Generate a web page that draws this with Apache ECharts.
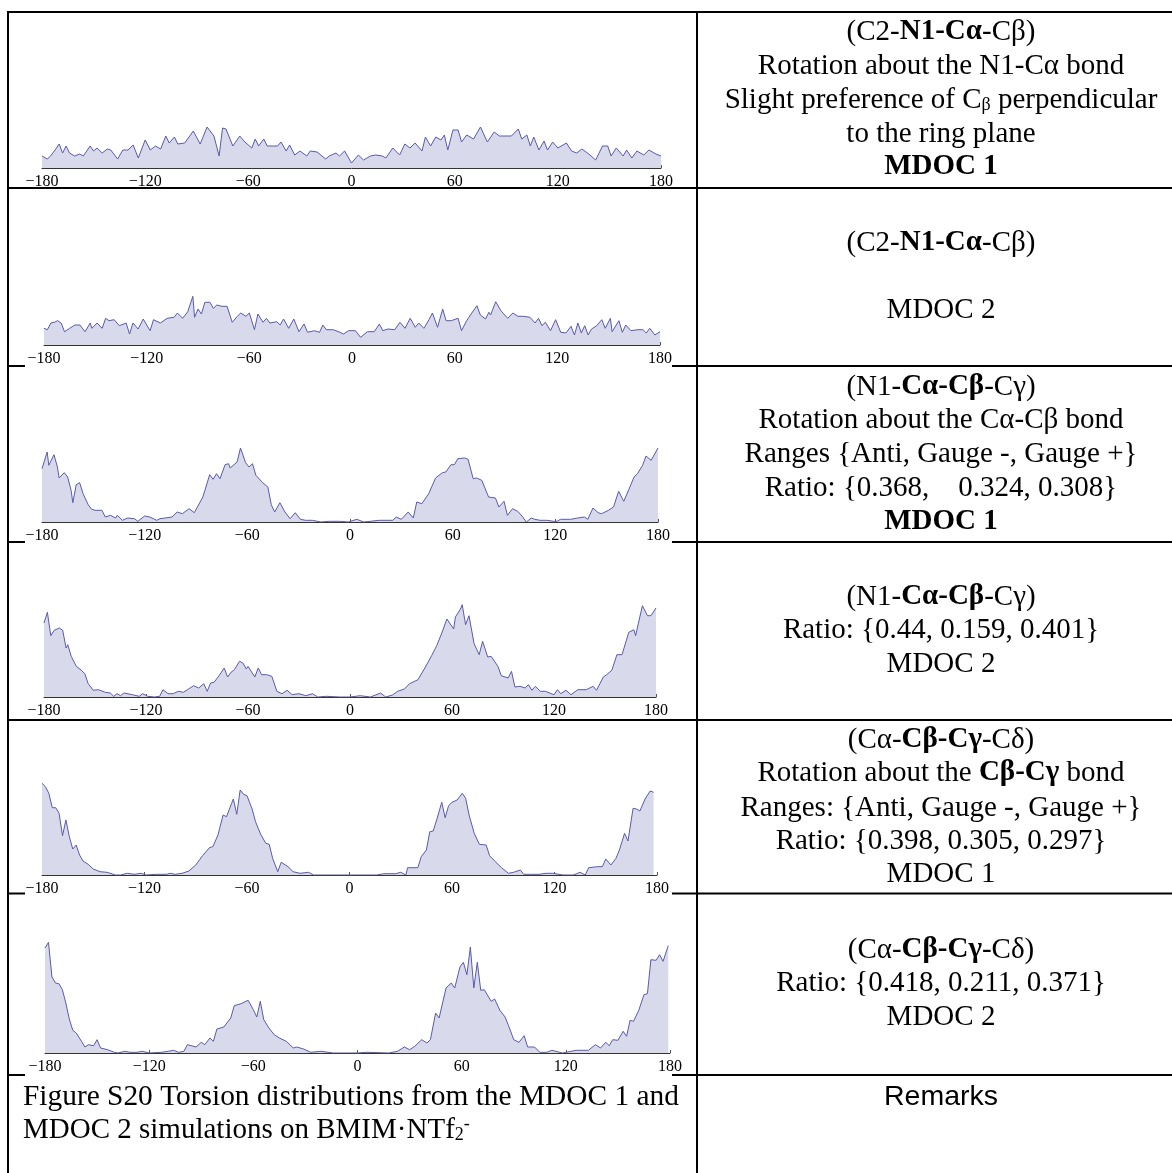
<!DOCTYPE html>
<html>
<head>
<meta charset="utf-8">
<script src="https://cdn.jsdelivr.net/npm/echarts@6/dist/echarts.min.js"></script>
<style>
html,body{margin:0;padding:0;background:#fff;}
#c{width:1172px;height:1173px;}
</style>
</head>
<body>
<div id="c"></div>
<script>
// ---- data: torsion angle (deg) and relative population (arbitrary units) ----
const xTicks = [-180, -120, -60, 0, 60, 120, 180];

const ang1 = [-180,-177,-175,-172,-170,-168,-166,-164,-161,-158,-156,-154,-152,-150,-148,-145,-142,-140,-136,-133,-130,-127,-124,-120,-117,-114,-111,-108,-106,-103,-101,-97,-92,-88,-84,-80,-77,-75,-73,-69,-65,-62,-58,-56,-54,-51,-49,-43,-41,-38,-36,-33,-30,-26,-24,-20,-15,-13,-9,-7,-4,0,4,7,11,14,18,20,24,28,31,34,37,41,43,46,49,52,54,56,59,62,64,67,71,75,79,83,86,93,97,99,102,104,106,109,112,114,117,120,125,128,131,134,138,142,146,149,151,154,158,160,163,166,170,173,177,180];
const val1 = [12,9,12,19,24,15,22,15,12,14,12,17,22,17,20,15,19,18,9,18,18,23,10,28,18,22,19,32,25,31,24,25,37,24,41,32,12,40,39,22,32,26,20,29,22,29,22,22,26,17,23,13,17,12,17,16,9,12,15,12,17,5,13,8,12,13,12,10,20,13,24,20,25,17,31,22,31,28,33,18,38,38,26,33,29,41,26,36,32,32,39,29,33,22,31,18,27,18,26,20,25,17,15,19,14,8,22,22,12,20,12,18,10,17,13,18,14,12];

const ang2 = [-180,-178,-176,-174,-172,-170,-168,-165,-162,-159,-156,-153,-152,-149,-146,-144,-142,-139,-136,-132,-130,-128,-125,-122,-118,-116,-112,-108,-104,-102,-99,-96,-93,-92,-90,-88,-86,-83,-81,-79,-76,-73,-70,-67,-65,-62,-60,-57,-55,-52,-50,-48,-44,-42,-40,-37,-34,-31,-28,-26,-22,-19,-17,-15,-11,-7,-5,-2,2,5,9,13,16,18,21,25,28,31,34,37,39,42,45,47,50,53,55,58,62,64,67,70,71,73,75,78,80,81,84,87,91,94,97,100,104,107,109,111,113,116,119,122,125,128,130,132,134,136,138,140,143,146,148,151,152,156,158,160,163,167,170,172,174,177,180];
const val2 = [16.7,15.3,22,22.7,24.3,22,13.3,16.7,20,20,13.3,22,16.7,22,16.7,26.7,24.3,25.3,19.3,22,11,22,16,26,14.3,25.3,22,26.7,27.7,32,26.7,33.3,48.7,27.7,36,31,42.7,42.7,36.7,40,38.7,38.7,22.7,28.7,32,28.7,32,15.3,31,22.7,26.7,22,23.3,20,26,16.7,26,13.3,21,12.7,14.3,12.7,20,15.3,15.3,12.7,11,14.3,14.3,7.7,13.3,13.3,21,14.3,16,15.3,22.7,16.7,26.7,17.7,22,16.7,25.3,32,17.7,36,24.3,24.3,26.7,14.3,24.3,32,32,39.3,30,26,32.7,30,43.3,34.3,26.7,32,28.7,28.7,27.7,22,26.7,19.3,22.7,14.3,25.3,12.7,12,18.7,10,22,12,19.3,10,16,19.3,25.3,16.7,26.7,13.3,24.3,12.7,20,14.3,15.3,15.3,12,16.7,10,13.3];

const ang3 = [-180,-177,-176,-173,-171,-170,-167,-165,-163,-162,-160,-158,-156,-153,-151,-149,-145,-143,-140,-137,-136,-133,-130,-126,-124,-120,-117,-113,-111,-108,-104,-101,-98,-94,-91,-86,-82,-80,-78,-76,-73,-71,-70,-66,-64,-61,-59,-57,-55,-51,-48,-46,-44,-41,-38,-35,-32,-29,-26,-22,-17,-12,-6,-1,4,8,12,17,25,27,30,34,37,39,42,46,50,54,56,59,61,63,67,69,72,74,77,81,85,87,90,92,95,98,101,103,106,108,111,115,119,121,123,129,133,137,139,142,145,147,151,154,157,160,163,166,168,171,173,176,180];
const val3 = [53.3,70,56.7,67.3,55,44,49.3,45,31.7,19.3,37.3,39.3,28.3,17.3,12.7,11.7,11.7,5,6.7,4,6.7,1.7,4,3.3,0.7,6,5,1.7,3.3,4,5,10,8.3,13.3,9.3,25,47.3,42.7,48.3,43.3,57.3,58.3,54,60,74,59.3,55,58.3,46.7,39.3,35,17.3,10,19.3,10,3.3,9.3,2.7,1.7,1.7,0,0.7,0.7,0,2.7,0,0.7,1.7,1.7,5,2.7,10,4,20,18.3,28.3,44,49.3,50,57.3,57.3,63.3,64,62.7,43.3,44,41.7,25,24,15,20.7,6.7,13.3,10.7,5,0,4,2.7,1.7,1.7,0.7,0.7,2.7,2.7,4,5,2.7,14,9.3,8.3,11.7,15,30.7,20.7,32.7,45,48.3,56.7,66,61.7,74];

const ang4 = [-180,-178,-176,-174,-171,-169,-167,-166,-164,-161,-158,-156,-154,-151,-148,-144,-141,-139,-137,-135,-133,-128,-124,-122,-119,-115,-112,-110,-107,-104,-101,-98,-95,-92,-89,-86,-84,-82,-80,-77,-74,-72,-70,-68,-65,-63,-61,-60,-56,-54,-52,-49,-46,-43,-40,-37,-34,-30,-26,-22,-19,-14,-6,0,6,12,18,21,25,28,32,35,40,44,48,51,54,57,61,62,65,66,68,70,73,76,78,81,83,87,89,93,95,97,100,103,105,107,109,112,115,120,122,124,127,130,134,139,143,145,149,151,154,157,160,164,167,168,172,175,177,180];
const val4 = [74,84.7,61.3,66.7,69,66.7,49,52.3,40.7,30.7,26.7,23.3,13.3,6.7,7.3,4.7,4,0.7,3.3,1.3,4,2.3,0.7,3.3,0.7,0,0.7,7.3,3.3,3.3,5.7,4.7,8,11.3,9,13.3,5.7,14,14.7,21.3,29,20,24.7,27.3,35.7,34,28,30.7,20,29,22.3,22.3,20.7,5.7,3.3,6.7,2.3,3.3,1.3,3.3,0,0.7,0,0,1.3,0,4,0,2,5.7,8,13.3,17.3,29,41.3,51.3,64,78,68,80,88,92.3,72.3,81.3,53.3,42.3,55.7,40,40.7,30.7,21.3,19,25.7,10,10.7,9,12.3,6.7,10.7,5.7,5.7,2.3,7.3,3.3,6.7,2.3,7.3,7.3,10.7,6.7,20,22.3,26.7,42.3,42.3,64.7,67.3,61.3,91.3,81.3,81.3,89];

const ang5 = [-180,-178,-176,-174,-172,-170,-168,-166,-164,-162,-160,-158,-156,-153,-150,-146,-142,-137,-134,-130,-126,-122,-119,-113,-107,-105,-102,-98,-94,-90,-86,-82,-80,-77,-74,-72,-69,-68,-66,-64,-62,-60,-57,-55,-52,-49,-47,-45,-42,-40,-36,-33,-29,-24,-21,-11,0,4,16,20,27,30,33,34,40,42,45,47,49,51,54,56,58,60,63,66,68,70,73,76,80,82,85,89,93,96,100,102,106,111,115,119,125,131,135,138,140,145,148,150,153,156,158,161,163,166,168,170,173,176,178];
const val5 = [91.7,88.3,81.7,67.3,67.3,61.7,39.3,55,38.3,26,30,20,14,10.7,6,3.3,2.7,0,0,1.7,0.7,1.7,0,0.7,0.7,1.7,0.7,1.7,4,10,19.3,27.3,28.3,40,60,58.3,71.7,76,60.7,85,80.7,79.3,66,53.3,40.7,31.7,30.7,16.7,3.3,12.7,8.3,3.3,1.7,2.7,0,0,0,0,0,1.3,1.3,2.7,0,7.3,7.3,18.3,25,43.3,44,55,72.7,57.3,69.3,72.7,75,81.7,76.7,60,41.7,30.7,30,19.3,14,7.3,1.7,2.7,5,0.7,0.7,0.7,1.7,1.7,0,0,2.7,0,7.3,8.3,8.3,16,10,16.7,25,41.7,34,66.7,66,64,76,84,82.7];

const ang6 = [-180,-178,-176,-174,-172,-170,-168,-166,-164,-162,-159,-157,-155,-152,-150,-148,-144,-140,-138,-134,-131,-127,-124,-120,-113,-109,-106,-103,-100,-98,-93,-90,-88,-85,-83,-81,-77,-73,-71,-67,-63,-60,-58,-56,-54,-51,-48,-45,-41,-37,-35,-31,-27,-21,-14,0,5,18,23,27,30,33,37,40,42,45,47,49,51,54,56,59,61,63,65,67,69,71,73,77,79,82,85,87,90,93,96,98,102,105,109,112,118,126,133,137,140,143,145,147,150,153,155,157,159,162,165,167,169,172,174,176,179];
const val6 = [105,110.7,76,70,69.3,63.3,50,34,22.7,20,11.7,6,8.3,7.3,13.3,5,3.3,0.7,0,1.7,0.7,0.7,1.7,0,0.7,1.7,2.7,0.7,1.7,8.3,6,10.7,8.3,15,11.7,24,26,35,47.3,49.3,52.7,43.3,36,51.7,33.3,25,18.3,15,11.7,5,6,4,0.7,1.7,0,0,0.7,0,1.7,6,3.3,6.7,13.3,10,13.3,40,35,50,65,70,65,86,90.7,78.3,106,65,90.7,62.7,63.3,51.7,54,42.7,36,27.3,13.3,10.7,17.3,6,6,0.7,0.7,2.7,0,2.7,2.7,8.3,5,10.7,7.3,13.3,12.7,21.7,16.7,32.7,31.7,42.7,58.3,59.3,93.3,92.7,98.3,91.7,107.3];

// ---- layout ----
const H = 130;
const panels = [
  {ang: ang1, val: val1, left: 42, right: 661, base: 168},
  {ang: ang2, val: val2, left: 44, right: 660, base: 345},
  {ang: ang3, val: val3, left: 42, right: 658, base: 522},
  {ang: ang4, val: val4, left: 44, right: 656, base: 697},
  {ang: ang5, val: val5, left: 42, right: 657, base: 875},
  {ang: ang6, val: val6, left: 45, right: 670, base: 1053}
];

const LINE = '#5a5aaa', FILL = '#d9d9ec';
const grid = [], xAxis = [], yAxis = [], series = [];
panels.forEach((p, i) => {
  grid.push({left: p.left, top: p.base - H, width: p.right - p.left, height: H, containLabel: false});
  xAxis.push({
    type: 'value', gridIndex: i, min: xTicks[0], max: xTicks[xTicks.length - 1], interval: 60,
    axisLine: {show: true, lineStyle: {color: '#333', width: 1}},
    axisTick: {show: true, inside: true, length: 3, lineStyle: {color: '#555', width: 1}},
    splitLine: {show: false},
    axisLabel: {
      show: true, margin: 6, color: '#000', fontFamily: 'Liberation Serif', fontSize: 16,
      formatter: v => (v < 0 ? '\u2212' + (-v) : String(v))
    }
  });
  yAxis.push({type: 'value', gridIndex: i, min: 0, max: H, show: false, splitLine: {show: false}});
  series.push({
    type: 'line', xAxisIndex: i, yAxisIndex: i,
    data: p.ang.map((a, k) => [a, p.val[k]]),
    showSymbol: false, symbol: 'none', smooth: false, silent: true,
    lineStyle: {color: LINE, width: 1},
    areaStyle: {color: FILL, opacity: 1},
    z: 2
  });
});

// ---- table + text ----
const SERIF = 'Liberation Serif';
const FS = 29;
const richBase = {
  b: {fontFamily: SERIF, fontSize: FS, fontWeight: 'bold', fill: '#000'},
  n: {fontFamily: SERIF, fontSize: FS, fill: '#000'},
  sub: {fontFamily: SERIF, fontSize: 18, fill: '#000', verticalAlign: 'bottom'},
  sup: {fontFamily: SERIF, fontSize: 18, fill: '#000', verticalAlign: 'top'}
};
function txt(x, y, text, opt) {
  opt = opt || {};
  return {
    type: 'text', x: x, y: y, z: 10,
    style: {
      text: text, fill: '#000', fontFamily: opt.family || SERIF, fontSize: opt.size || FS,
      fontWeight: opt.weight || 'normal',
      align: opt.align || 'center', verticalAlign: 'middle', rich: richBase
    }
  };
}
function line(x1, y1, x2, y2) {
  return {type: 'line', z: 1, shape: {x1: x1, y1: y1, x2: x2, y2: y2}, style: {stroke: '#000', lineWidth: 2}};
}

const CX = 941;
const DY = 2;
const rightText = [
  [30, '{n|(C2-}{b|N1-Cα}{n|-Cβ)}'],
  [64, 'Rotation about the N1-Cα bond'],
  [98, '{n|Slight preference of C}{sub|β}{n| perpendicular}'],
  [132, 'to the ring plane'],
  [165, '{b|MDOC 1}'],
  [241, '{n|(C2-}{b|N1-Cα}{n|-Cβ)}'],
  [308, 'MDOC 2'],
  [385, '{n|(N1-}{b|Cα-Cβ}{n|-Cγ)}'],
  [418, 'Rotation about the Cα-Cβ bond'],
  [452, 'Ranges {Anti, Gauge -, Gauge +}'],
  [486, 'Ratio: {0.368,    0.324, 0.308}'],
  [520, '{b|MDOC 1}'],
  [595, '{n|(N1-}{b|Cα-Cβ}{n|-Cγ)}'],
  [628, 'Ratio: {0.44, 0.159, 0.401}'],
  [662, 'MDOC 2'],
  [738, '{n|(Cα-}{b|Cβ-Cγ}{n|-Cδ)}'],
  [771, '{n|Rotation about the }{b|Cβ-Cγ}{n| bond}'],
  [806, 'Ranges: {Anti, Gauge -, Gauge +}'],
  [839, 'Ratio: {0.398, 0.305, 0.297}'],
  [872, 'MDOC 1'],
  [948, '{n|(Cα-}{b|Cβ-Cγ}{n|-Cδ)}'],
  [981, 'Ratio: {0.418, 0.211, 0.371}'],
  [1015, 'MDOC 2']
];

const graphic = [];
graphic.push(line(7, 12, 1172, 12));
graphic.push(line(8, 11, 8, 1173));
graphic.push(line(697, 11, 697, 1173));
graphic.push(line(7, 188, 1172, 188));
graphic.push(line(7, 720, 1172, 720));
[366, 542, 893.5, 1075].forEach(y => {
  graphic.push(line(7, y, 25, y));
  graphic.push(line(672, y, 1172, y));
});
rightText.forEach(r => graphic.push(txt(CX, r[0] + DY, r[1])));
graphic.push(txt(23, 1095 + DY, 'Figure S20 Torsion distributions from the MDOC 1 and', {align: 'left', size: 29.4}));
graphic.push(txt(23, 1128 + DY, '{n|MDOC 2 simulations on BMIM·NTf}{sub|2}{sup|-}', {align: 'left'}));
graphic.push(txt(CX, 1095 + DY, 'Remarks', {family: 'Liberation Sans', size: 28.5}));

const chart = echarts.init(document.getElementById('c'), null, {renderer: 'canvas'});
chart.setOption({
  animation: false,
  backgroundColor: '#fff',
  grid: grid, xAxis: xAxis, yAxis: yAxis, series: series,
  graphic: graphic
});
</script>
</body>
</html>
